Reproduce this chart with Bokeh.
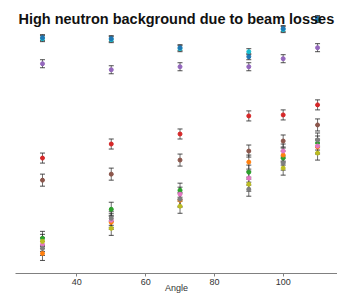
from bokeh.plotting import figure
from bokeh.models import ColumnDataSource, Whisker, TeeHead, Range1d, Label, FixedTicker
from bokeh.embed import file_html
from bokeh.resources import INLINE

angles = [30, 50, 70, 90, 100, 110]

series_names = ["cyan", "blue", "purple", "red", "brown", "green", "orange", "pink", "gray", "olive"]
colors = {
    "blue": "#1f77b4", "orange": "#ff7f0e", "green": "#2ca02c", "red": "#d62728",
    "purple": "#9467bd", "brown": "#8c564b", "pink": "#e377c2", "gray": "#7f7f7f",
    "olive": "#bcbd22", "cyan": "#17becf",
}

blue = [237, 236, 227, 218, 246, 256]
cyan = [236, 235, 226, 223, 245, 255]
purple = [211, 205, 208, 208, 216, 227]
red = [117, 131, 141, 159, 160, 170]
brown = [95, 101, 115, 124, 134, 150]
green = [37, 66, 85, 103, 117, 132]
orange = [22, 53, 75, 113, 120, 128]
pink = [31, 55, 81, 97, 124, 129]
gray = [27, 57, 76, 86, 112, 135]
olive = [34, 47, 69, 91, 107, 122]

errors = {"blue": 3, "cyan": 3, "purple": 4, "red": 5, "brown": 6,
          "green": 7, "orange": 7, "pink": 7, "gray": 7, "olive": 7}

values = {"blue": blue, "cyan": cyan, "purple": purple, "red": red, "brown": brown,
          "green": green, "orange": orange, "pink": pink, "gray": gray, "olive": olive}

p = figure(width=337, height=295, output_backend="svg", toolbar_location=None,
           x_range=Range1d(22.15, 115.8), y_range=Range1d(2, 274),
           y_axis_location=None, min_border_left=15, min_border_right=0,
           min_border_top=0, min_border_bottom=21)
p.xgrid.visible = False
p.ygrid.visible = False
p.outline_line_color = None
p.background_fill_color = "white"

ax = p.xaxis[0]
ax.ticker = FixedTicker(ticks=[40, 60, 80, 100])
ax.axis_line_color = "#808080"
ax.major_tick_line_color = "#808080"
ax.major_tick_out = 3
ax.major_tick_in = 0
ax.minor_tick_line_color = None
ax.major_label_standoff = 2
ax.major_label_text_font = "Liberation Sans"
ax.major_label_text_font_size = "9px"
ax.major_label_text_color = "#333333"
ax.axis_label = "Angle"
ax.axis_label_standoff = -5
ax.axis_label_text_font = "Liberation Sans"
ax.axis_label_text_font_size = "9px"
ax.axis_label_text_font_style = "normal"
ax.axis_label_text_color = "#333333"

for name in series_names:
    vals = values[name]
    e = errors[name]
    src = ColumnDataSource(dict(x=angles, y=vals,
                                lower=[v - e for v in vals],
                                upper=[v + e for v in vals]))
    w = Whisker(source=src, base="x", lower="lower", upper="upper", dimension="height",
                line_color="#333333", line_alpha=0.7, line_width=1,
                upper_head=TeeHead(size=5, line_color="#222222", line_alpha=0.8, line_width=1),
                lower_head=TeeHead(size=5, line_color="#222222", line_alpha=0.8, line_width=1))
    p.add_layout(w)
    p.scatter("x", "y", source=src, marker="circle", size=4,
              fill_color=colors[name], line_color=colors[name])

title = Label(x=23.0, y=256, text="High neutron background due to beam losses",
              text_font="Liberation Sans", text_font_size="14.5px", text_font_style="bold",
              text_color="#111111", text_baseline="alphabetic")
p.add_layout(title)

open("out.html", "w").write(file_html(p, INLINE))
